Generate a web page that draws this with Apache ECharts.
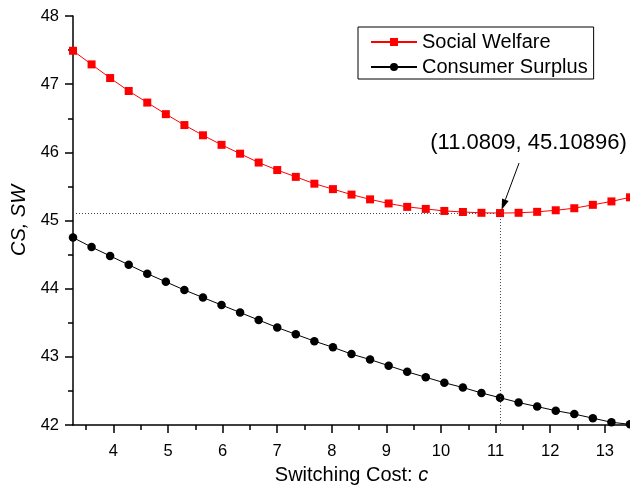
<!DOCTYPE html>
<html>
<head>
<meta charset="utf-8">
<script src="https://cdn.jsdelivr.net/npm/echarts@6/dist/echarts.min.js"></script>
<style>
  html, body { margin: 0; padding: 0; background: #ffffff; }
  #chart { width: 630px; height: 490px; }
</style>
</head>
<body>
<div id="chart"></div>
<script>
// Switching cost c (x values of both curves)
const switchingCost = [
  3.2609, 3.6009, 3.9409, 4.2809, 4.6209, 4.9609, 5.3009, 5.6409, 5.9809, 6.3209,
  6.6609, 7.0009, 7.3409, 7.6809, 8.0209, 8.3609, 8.7009, 9.0409, 9.3809, 9.7209,
  10.0609, 10.4009, 10.7409, 11.0809, 11.4209, 11.7609, 12.1009, 12.4409, 12.7809, 13.1209,
  13.4609
];
// Social welfare SW(c)
const socialWelfare = [
  47.49, 47.29, 47.09, 46.90, 46.73, 46.56, 46.40, 46.25, 46.11, 45.98,
  45.85, 45.74, 45.64, 45.54, 45.46, 45.38, 45.31, 45.25, 45.20, 45.17,
  45.14, 45.125, 45.113, 45.10896, 45.113, 45.127, 45.15, 45.18, 45.23, 45.28,
  45.34
];
// Consumer surplus CS(c)
const consumerSurplus = [
  44.75, 44.61, 44.48, 44.35, 44.22, 44.10, 43.98, 43.87, 43.76, 43.65,
  43.54, 43.43, 43.33, 43.23, 43.14, 43.04, 42.96, 42.87, 42.78, 42.70,
  42.62, 42.55, 42.47, 42.40, 42.33, 42.27, 42.21, 42.16, 42.10, 42.04,
  42.01
];
// Minimum of social welfare
const minPoint = [11.0809, 45.10896];

const xRange = [3.2609, 13.4609];
const yRange = [42, 48];
const xTickValues = [4, 5, 6, 7, 8, 9, 10, 11, 12, 13];
const xMinorTickValues = [3.5, 4.5, 5.5, 6.5, 7.5, 8.5, 9.5, 10.5, 11.5, 12.5];

const FONT = '"Liberation Sans", Arial, Helvetica, sans-serif';
const pair = (xs, ys) => xs.map((x, i) => [x, ys[i]]);

const chart = echarts.init(document.getElementById('chart'), null, { renderer: 'canvas' });

chart.setOption({
  animation: false,
  backgroundColor: '#ffffff',
  textStyle: { fontFamily: FONT },
  grid: { left: 73, right: 0, top: 16, bottom: 65, containLabel: false },
  legend: {
    orient: 'vertical',
    left: 358,
    top: 27,
    itemWidth: 46,
    itemHeight: 10,
    itemGap: 5,
    padding: [5, 6, 2, 12],
    borderColor: '#000',
    borderWidth: 1,
    textStyle: { fontSize: 20, color: '#000', fontFamily: FONT },
    data: ['Social Welfare', 'Consumer Surplus']
  },
  xAxis: [
    {
      type: 'value',
      min: xRange[0],
      max: xRange[1],
      position: 'bottom',
      axisLine: { show: true, onZero: false, lineStyle: { color: '#000', width: 1.5 } },
      axisTick: { show: true, customValues: xTickValues, length: 8, lineStyle: { color: '#000', width: 1.5 } },
      axisLabel: { customValues: xTickValues, fontSize: 16.5, color: '#000', margin: 18, fontFamily: FONT },
      splitLine: { show: false },
      name: '{n|Switching Cost: }{i|c}',
      nameLocation: 'middle',
      nameGap: 40,
      nameTextStyle: {
        color: '#000',
        rich: {
          n: { fontSize: 20, fontFamily: FONT, color: '#000' },
          i: { fontSize: 20, fontFamily: FONT, fontStyle: 'italic', color: '#000' }
        }
      }
    },
    {
      // minor ticks at the half units
      type: 'value',
      min: xRange[0],
      max: xRange[1],
      position: 'bottom',
      axisLine: { show: false },
      axisTick: { show: true, customValues: xMinorTickValues, length: 5, lineStyle: { color: '#000', width: 1.5 } },
      axisLabel: { show: false },
      splitLine: { show: false }
    }
  ],
  yAxis: {
    type: 'value',
    min: yRange[0],
    max: yRange[1],
    interval: 1,
    axisLine: { show: true, onZero: false, lineStyle: { color: '#000', width: 1.5 } },
    axisTick: { show: true, length: 8, lineStyle: { color: '#000', width: 1.5 } },
    minorTick: { show: true, splitNumber: 2, length: 5, lineStyle: { color: '#000', width: 1.5 } },
    axisLabel: { fontSize: 16.5, color: '#000', margin: 14, fontFamily: FONT },
    splitLine: { show: false },
    minorSplitLine: { show: false },
    name: 'CS, SW',
    nameLocation: 'middle',
    nameGap: 43,
    nameTextStyle: { fontSize: 20, fontStyle: 'italic', color: '#000', fontFamily: FONT }
  },
  series: [
    {
      name: 'Social Welfare',
      type: 'line',
      xAxisIndex: 0,
      data: pair(switchingCost, socialWelfare),
      symbol: 'rect',
      symbolSize: 8,
      showAllSymbol: true,
      itemStyle: { color: '#ff0000' },
      lineStyle: { color: '#ff0000', width: 1 },
      z: 3,
      markLine: {
        silent: true,
        symbol: 'none',
        label: { show: false },
        lineStyle: { color: '#444', width: 1, type: [1, 2] },
        data: [
          [{ coord: [xRange[0], minPoint[1]] }, { coord: minPoint }],
          [{ coord: minPoint }, { coord: [minPoint[0], yRange[0]] }]
        ]
      }
    },
    {
      name: 'Consumer Surplus',
      type: 'line',
      xAxisIndex: 0,
      data: pair(switchingCost, consumerSurplus),
      symbol: 'circle',
      symbolSize: 8.5,
      showAllSymbol: true,
      itemStyle: { color: '#000' },
      lineStyle: { color: '#000', width: 1 },
      z: 3
    }
  ]
});

// Annotation of the minimum: coordinate text and an arrow pointing at it
const [px, py] = chart.convertToPixel({ xAxisIndex: 0, yAxisIndex: 0 }, minPoint);
const tail = [px + 19, py - 50];
const tip = [px + 1.5, py - 3];
const dx = tip[0] - tail[0], dy = tip[1] - tail[1];
const len = Math.hypot(dx, dy);
const ux = dx / len, uy = dy / len;
const headLen = 11, headHalf = 3.5;
const base = [tip[0] - ux * headLen, tip[1] - uy * headLen];

chart.setOption({
  graphic: [
    {
      type: 'text',
      x: px + 28.5,
      y: py - 70,
      z: 10,
      style: {
        text: '(' + minPoint[0] + ', ' + minPoint[1] + ')',
        fontSize: 22,
        fontFamily: FONT,
        fill: '#000',
        align: 'center',
        verticalAlign: 'middle'
      }
    },
    {
      type: 'line',
      z: 10,
      shape: { x1: tail[0], y1: tail[1], x2: base[0], y2: base[1] },
      style: { stroke: '#000', lineWidth: 1 }
    },
    {
      type: 'polygon',
      z: 10,
      shape: {
        points: [
          tip,
          [base[0] - uy * headHalf, base[1] + ux * headHalf],
          [base[0] + uy * headHalf, base[1] - ux * headHalf]
        ]
      },
      style: { fill: '#000' }
    }
  ]
});
</script>
</body>
</html>
